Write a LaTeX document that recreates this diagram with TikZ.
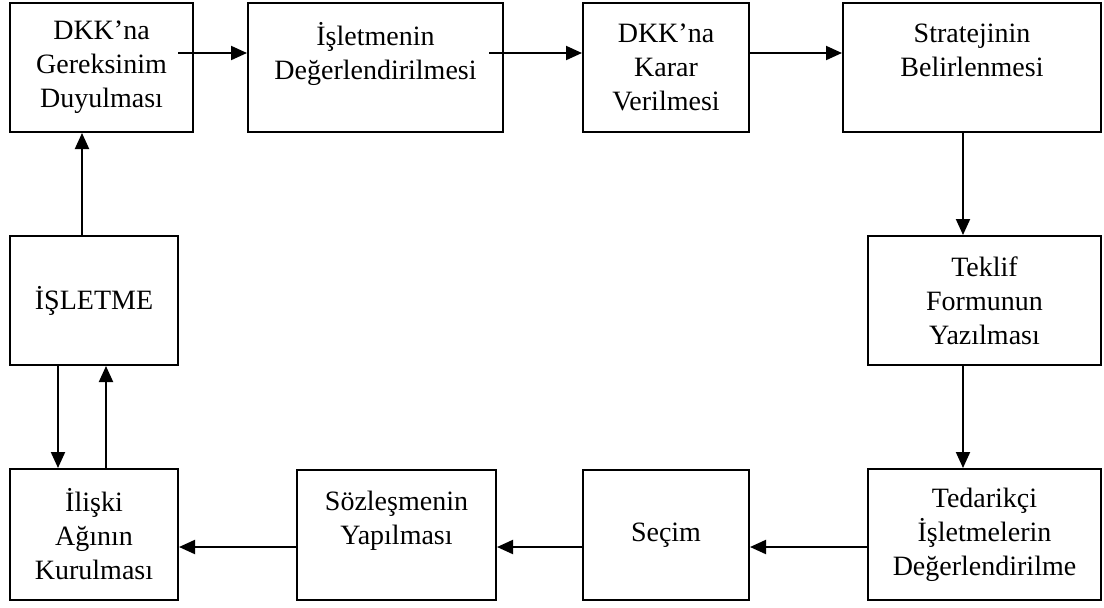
\documentclass[tikz,border=0pt]{standalone}
\usepackage{fontspec}
\setmainfont{Liberation Serif}
\usetikzlibrary{arrows.meta}

\tikzset{
  kutu/.style={draw=black, line width=1pt, align=center, inner sep=0pt, font=\fontsize{14}{17}\selectfont},
  ok/.style={draw=black, line width=1pt, -{Triangle[length=8pt,width=7pt]}}
}

\begin{document}
\begin{tikzpicture}[x=0.5pt, y=-0.5pt]
  \useasboundingbox (0,0) rectangle (1104,607);
  % ust sira
  \node[kutu, minimum width=91.5pt, minimum height=64.5pt] (gereksinim) at (101.5,67.5) {DKK’na\\Gereksinim\\Duyulması};
  \node[kutu, minimum width=127.5pt, minimum height=64.5pt] (degerlendirme) at (375.5,67.5) {İşletmenin\\Değerlendirilmesi\\~};
  \node[kutu, minimum width=83pt, minimum height=64.5pt] (karar) at (666,67.5) {DKK’na\\Karar\\Verilmesi};
  \node[kutu, minimum width=129pt, minimum height=64.5pt] (strateji) at (972,67.5) {Stratejinin\\Belirlenmesi\\~};
  % orta sira
  \node[kutu, minimum width=84pt, minimum height=64.5pt] (isletme) at (94,300.5) {İŞLETME};
  \node[kutu, minimum width=116.5pt, minimum height=64.5pt] (teklif) at (984.5,300.5) {Teklif\\Formunun\\Yazılması};
  % alt sira
  \node[kutu, minimum width=84pt, minimum height=65.5pt] (iliski) at (94,534.5) {İlişki\\Ağının\\Kurulması};
  \node[kutu, minimum width=99.5pt, minimum height=65pt] (sozlesme) at (396.5,535) {Sözleşmenin\\Yapılması\\~};
  \node[kutu, minimum width=83pt, minimum height=65pt] (secim) at (666,535) {Seçim};
  \node[kutu, minimum width=116.5pt, minimum height=65.5pt] (tedarikci) at (984.5,534.5) {Tedarikçi\\İşletmelerin\\Değerlendirilme};

  \draw[ok] ([shift={(-8pt,7.25pt)}]gereksinim.east) -- ([yshift=7.25pt]degerlendirme.west);
  \draw[ok] ([shift={(-7.5pt,7.25pt)}]degerlendirme.east) -- ([yshift=7.25pt]karar.west);
  \draw[ok] ([yshift=7.25pt]karar.east) -- ([yshift=7.25pt]strateji.west);
  \draw[ok] ([xshift=-4.5pt]strateji.south) -- ([xshift=-10.75pt]teklif.north);
  \draw[ok] ([xshift=-10.75pt]teklif.south) -- ([xshift=-10.75pt]tedarikci.north);
  \draw[ok] ([yshift=-6.25pt]tedarikci.west) -- ([yshift=-6pt]secim.east);
  \draw[ok] ([yshift=-6pt]secim.west) -- ([yshift=-6pt]sozlesme.east);
  \draw[ok] ([yshift=-6pt]sozlesme.west) -- ([yshift=-6.25pt]iliski.east);
  \draw[ok] ([xshift=-18pt]isletme.south) -- ([xshift=-18pt]iliski.north);
  \draw[ok] ([xshift=6pt]iliski.north) -- ([xshift=6pt]isletme.south);
  \draw[ok] ([xshift=-6pt]isletme.north) -- ([xshift=-9.75pt]gereksinim.south);
\end{tikzpicture}
\end{document}
